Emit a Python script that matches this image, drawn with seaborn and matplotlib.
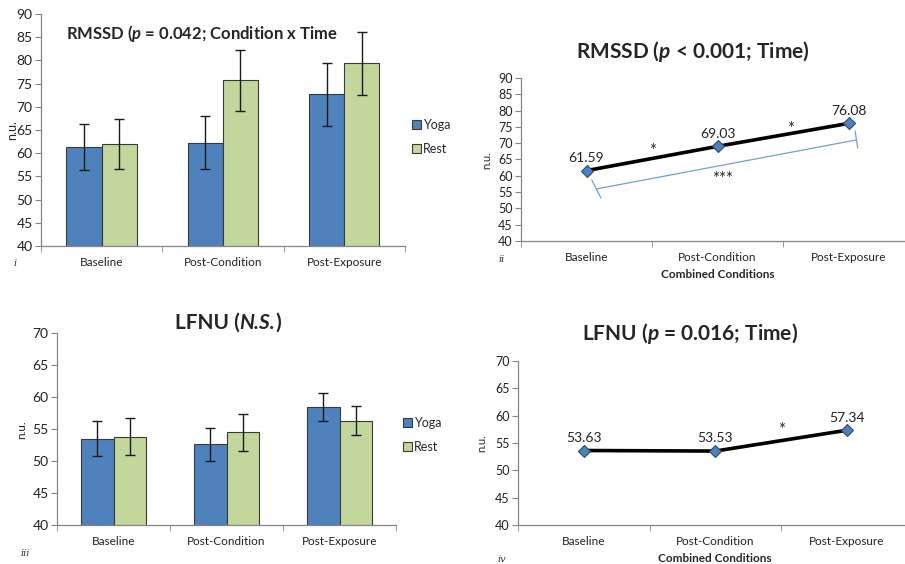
import numpy as np
import pandas as pd
import matplotlib
matplotlib.use('Agg')
import matplotlib.pyplot as plt
import seaborn as sns
from matplotlib.patches import Patch

# values
time = ['Baseline', 'Post-Condition', 'Post-Exposure']
conditions = ['Yoga', 'Rest']

rmssd_yoga = [61.3, 62.3, 72.7]
rmssd_yoga_err = [4.9, 5.7, 6.8]
rmssd_rest = [61.9, 75.7, 79.4]
rmssd_rest_err = [5.4, 6.5, 6.8]

lfnu_yoga = [53.5, 52.6, 58.4]
lfnu_yoga_err = [2.7, 2.6, 2.2]
lfnu_rest = [53.8, 54.5, 56.3]
lfnu_rest_err = [2.9, 2.9, 2.3]

rmssd_combined = [61.59, 69.03, 76.08]
lfnu_combined = [53.63, 53.53, 57.34]

colors = {'Yoga': '#4F81BD', 'Rest': '#C3D69B'}
axis_grey = '#868686'

sns.set_style('white')
plt.rcParams['font.family'] = ['Lato', 'DejaVu Sans']
plt.rcParams['mathtext.fontset'] = 'custom'
plt.rcParams['mathtext.it'] = 'Lato:bold:italic'
plt.rcParams['mathtext.rm'] = 'Lato:bold'
plt.rcParams['mathtext.bf'] = 'Lato:bold'

fig = plt.figure(figsize=(9.05, 5.64), dpi=100)


def style_axis(ax, ymin, ymax, ytick_size):
    ax.set_ylim(ymin, ymax)
    ax.set_xlim(-0.5, 2.5)
    ax.set_yticks(np.arange(ymin, ymax + 1, 5))
    for s in ['top', 'right']:
        ax.spines[s].set_visible(False)
    for s in ['left', 'bottom']:
        ax.spines[s].set_color(axis_grey)
        ax.spines[s].set_linewidth(0.9)
    ax.tick_params(axis='y', direction='out', length=4, color=axis_grey,
                   labelsize=ytick_size, labelcolor='#222222', left=True, pad=2)
    ax.tick_params(axis='x', which='major', length=0, labelsize=8.5,
                   labelcolor='#222222', pad=8)
    ax.set_xticks([-0.5, 0.5, 1.5, 2.5], minor=True)
    ax.tick_params(axis='x', which='minor', direction='out', length=4,
                   color=axis_grey, bottom=True)
    ax.set_xlabel('')
    ax.set_ylabel('')


def bar_panel(ax, yoga, yoga_err, rest, rest_err):
    df = pd.DataFrame({
        'time': time * 2,
        'cond': ['Yoga'] * 3 + ['Rest'] * 3,
        'val': yoga + rest,
    })
    errs = [yoga_err, rest_err]
    sns.barplot(data=df, x='time', y='val', hue='cond', hue_order=conditions,
                palette=colors, saturation=1, width=0.58, errorbar=None, ax=ax,
                edgecolor='#3a3a3a', linewidth=0.8, legend=False)
    for cont, err in zip(ax.containers, errs):
        xs = [b.get_x() + b.get_width() / 2 for b in cont]
        hs = [b.get_height() for b in cont]
        ax.errorbar(xs, hs, yerr=err, fmt='none', ecolor='#1a1a1a',
                    elinewidth=1.0, capsize=3.5, capthick=1.0, zorder=5)
    handles = [Patch(facecolor=colors[c], edgecolor='#3a3a3a', linewidth=0.8, label=c)
               for c in conditions]
    ax.legend(handles=handles, loc='center left', bbox_to_anchor=(1.005, 0.47),
              frameon=False, fontsize=9, handlelength=0.75, handleheight=0.75,
              handletextpad=0.15, labelspacing=1.0, borderaxespad=0)


def line_panel(ax, vals, offset):
    sns.pointplot(x=time, y=vals, color='black', marker='D', markersize=6.5,
                  markerfacecolor='#4F81BD', markeredgecolor='#2a4a70',
                  markeredgewidth=0.8, linewidth=2.6, errorbar=None, ax=ax)
    for i, v in enumerate(vals):
        ax.text(i, v + offset, f'{v:.2f}', ha='center', va='bottom',
                fontsize=10, color='#222222')


def pieced_title(cx, cy, parts, size):
    # parts: list of (text, style); laid out left to right, centred on cx
    r = fig.canvas.get_renderer()
    texts = [fig.text(0, 1 - cy / 564, s, fontsize=size, fontweight='bold',
                      style=st, va='center', ha='left') for s, st in parts]
    widths = [t.get_window_extent(r).width for t in texts]
    x = cx - sum(widths) / 2
    for t, w in zip(texts, widths):
        t.set_x(x / 905)
        x += w


# panel i
ax1 = fig.add_axes([0.0453, 0.5638, 0.402, 0.4113])
bar_panel(ax1, rmssd_yoga, rmssd_yoga_err, rmssd_rest, rmssd_rest_err)
style_axis(ax1, 40, 90, 10)
ax1.text(0.07, 0.915, 'RMSSD ($p$ = 0.042; Condition x Time', transform=ax1.transAxes,
         fontsize=12, fontweight='bold', ha='left', va='center')
fig.text(12 / 905, 1 - 130 / 564, 'n.u.', rotation=90, ha='center', va='center', fontsize=9)

# panel ii
ax2 = fig.add_axes([0.5757, 0.5727, 0.4343, 0.289])
line_panel(ax2, rmssd_combined, 2.0)
style_axis(ax2, 40, 90, 9)
# bracket between baseline and post-exposure
ax2.plot([0.08, 2.06], [56.0, 71.0], color='#6FA0D8', lw=0.9)
ax2.plot([0.04, 0.11], [58.7, 53.2], color='#6FA0D8', lw=0.9)
ax2.plot([2.05, 2.07], [73.7, 68.5], color='#6FA0D8', lw=0.9)
ax2.text(0.5, 67.5, '*', ha='center', va='center', fontsize=12)
ax2.text(1.56, 74.5, '*', ha='center', va='center', fontsize=12)
ax2.text(1.04, 59.0, '***', ha='center', va='center', fontsize=12)
ax2.set_xlabel('Combined Conditions', fontsize=8.5, fontweight='bold', labelpad=4)
fig.text(693 / 905, 1 - 52 / 564, 'RMSSD ($p$ < 0.001; Time)', ha='center', va='center',
         fontsize=15, fontweight='bold')
fig.text(487 / 905, 1 - 160 / 564, 'n.u.', rotation=90, ha='center', va='center', fontsize=8)

# panel iii
ax3 = fig.add_axes([0.063, 0.0691, 0.3746, 0.3404])
bar_panel(ax3, lfnu_yoga, lfnu_yoga_err, lfnu_rest, lfnu_rest_err)
style_axis(ax3, 40, 70, 10)
pieced_title(228, 323, [('LFNU (', 'normal'), ('N.S.', 'italic'), (')', 'normal')], 15)
fig.text(22 / 905, 1 - 430 / 564, 'n.u.', rotation=90, ha='center', va='center', fontsize=8.5)

# panel iv
ax4 = fig.add_axes([0.5724, 0.0691, 0.436, 0.2908])
line_panel(ax4, lfnu_combined, 1.2)
style_axis(ax4, 40, 70, 9)
ax4.text(1.5, 57.3, '*', ha='center', va='center', fontsize=12)
ax4.set_xlabel('Combined Conditions', fontsize=8.5, fontweight='bold', labelpad=4)
fig.text(690 / 905, 1 - 333 / 564, 'LFNU ($p$ = 0.016; Time)', ha='center', va='center',
         fontsize=15, fontweight='bold')
fig.text(482 / 905, 1 - 443 / 564, 'n.u.', rotation=90, ha='center', va='center', fontsize=8)

# panel numerals
for x, y, s in [(15, 263, 'i'), (502, 259, 'ii'), (25, 553, 'iii'), (502, 559, 'iv')]:
    fig.text(x / 905, 1 - y / 564, s, ha='center', va='center', fontsize=7,
             family='DejaVu Serif', style='italic', color='#333333')

fig.savefig('out.png', dpi=100)
